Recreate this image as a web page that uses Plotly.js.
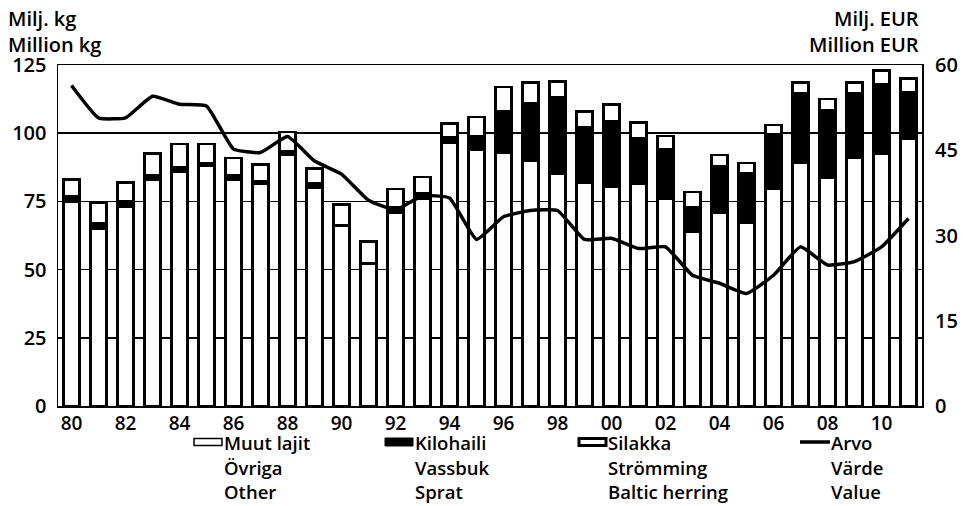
<!DOCTYPE html>
<html>
<head>
<meta charset="utf-8">
<script src="https://cdn.plot.ly/plotly-3.0.1.min.js"></script>
<style>
html,body{margin:0;padding:0;background:#fff;}
#chart{width:972px;height:506px;}
</style>
</head>
<body>
<div id="chart"></div>
<script>
// Data (Million kg and Million EUR)
const years = [1980,1981,1982,1983,1984,1985,1986,1987,1988,1989,1990,1991,1992,1993,1994,1995,1996,1997,1998,1999,2000,2001,2002,2003,2004,2005,2006,2007,2008,2009,2010,2011];
const silakka = [75,65,73,83,86,88,83,81.5,92,80,66,52,71,76,96.5,94,93,90,85,82,80.5,81.5,76,64,71,67,79.5,89,83.5,91,92.5,98];
const kilohaili = [2,2,2,1.5,1.5,1,1.5,1,1.5,1.5,0.3,0.3,2,2,2,5,15,21,28,20,24,16.5,18,9,17,18.5,20,25.5,25,23.5,25.5,17];
const muut = [6,7.5,7,8,8.5,7,6.5,6,7,5.5,7.5,8,6.5,6,5,7,9,7.5,6,6,6,6,5,5.5,4,3.5,3.5,4,4,4,5,5];
const arvo = [56.4,50.7,50.7,54.5,53.1,52.8,45.2,44.6,47.4,43.1,40.8,36.2,34.5,37,36.6,29.3,33.3,34.4,34.4,29.3,29.5,27.7,28,23,21.6,19.8,23,28,24.8,25.4,28,33];
const xTickVals = [1980,1982,1984,1986,1988,1990,1992,1994,1996,1998,2000,2002,2004,2006,2008,2010];
const xTickText = ["80","82","84","86","88","90","92","94","96","98","00","02","04","06","08","10"];
const yLeftTicks = [0,25,50,75,100,125];
const yRightTicks = [0,15,30,45,60];
const legendLabels = [
  ["Muut lajit","Övriga","Other"],
  ["Kilohaili","Vassbuk","Sprat"],
  ["Silakka","Strömming","Baltic herring"],
  ["Arvo","Värde","Value"]
];

const FONT = "Open Sans, Noto Sans, sans-serif";
const fs = 20;
const fw = 600;

const traces = [
  {type:'bar', name:'Silakka', x:years, y:silakka, marker:{color:'#fff', line:{color:'#000', width:2.5}}, showlegend:false, hoverinfo:'skip'},
  {type:'bar', name:'Kilohaili', x:years, y:kilohaili, marker:{color:'#000', line:{color:'#000', width:2.5}}, showlegend:false, hoverinfo:'skip'},
  {type:'bar', name:'Muut lajit', x:years, y:muut, marker:{color:'#fff', line:{color:'#000', width:2.5}}, showlegend:false, hoverinfo:'skip'},
  {type:'scatter', mode:'lines', name:'Arvo', x:years, y:arvo, yaxis:'y2', line:{color:'#000', width:3.5, shape:'spline', smoothing:0.4}, showlegend:false, hoverinfo:'skip'}
];

function px2x(p){ return (p-58)/864; }
function py2y(p){ return (406-p)/341; }

const legendPos = [
  {sx0:194, sx1:222, kind:'other', tx:223},
  {sx0:385, sx1:413, kind:'sprat', tx:414},
  {sx0:579, sx1:606, kind:'herring', tx:607},
  {sx0:800, sx1:830, kind:'line', tx:830}
];
const rowY = [443, 467, 491];

const shapes = [];
const annotations = [
  {xref:'paper', yref:'paper', x:px2x(7), y:py2y(4), xanchor:'left', yanchor:'top', align:'left', showarrow:false, borderpad:0,
   text:'Milj. kg<br>Million kg', font:{family:FONT, size:fs, weight:fw, color:'#000'}},
  {xref:'paper', yref:'paper', x:px2x(920), y:py2y(4), xanchor:'right', yanchor:'top', align:'right', showarrow:false, borderpad:0,
   text:'Milj. EUR<br>Million EUR', font:{family:FONT, size:fs, weight:fw, color:'#000'}}
];
legendPos.forEach((it, i)=>{
  const yc = 442;
  if(it.kind==='line'){
    shapes.push({type:'line', xref:'paper', yref:'paper', x0:px2x(it.sx0), x1:px2x(it.sx1), y0:py2y(yc), y1:py2y(yc), line:{color:'#000', width:3.5}});
  } else {
    let fill = '#fff', lw = 1.5, h = 3.5;
    if(it.kind==='sprat'){ fill = '#000'; lw = 1; h = 4; }
    if(it.kind==='herring'){ fill = '#fff'; lw = 3; h = 3.5; }
    shapes.push({type:'rect', xref:'paper', yref:'paper', x0:px2x(it.sx0), x1:px2x(it.sx1), y0:py2y(yc-h), y1:py2y(yc+h), fillcolor:fill, line:{color:'#000', width:lw}});
  }
  legendLabels[i].forEach((t, r)=>{
    annotations.push({xref:'paper', yref:'paper', x:px2x(it.tx), y:py2y(rowY[r]), xanchor:'left', yanchor:'middle', align:'left', showarrow:false, borderpad:0,
      text:t, font:{family:FONT, size:18.5, weight:fw, color:'#000'}});
  });
});

const layout = {
  width:972, height:506,
  margin:{l:58, r:50, t:65, b:100},
  paper_bgcolor:'#fff', plot_bgcolor:'#fff',
  barmode:'stack', bargap:0.42,
  showlegend:false,
  font:{family:FONT, size:fs, weight:fw, color:'#000'},
  xaxis:{range:[1979.5,2011.5], tickvals:xTickVals, ticktext:xTickText, showgrid:false, zeroline:false,
    showline:true, linecolor:'#000', linewidth:1.5, mirror:true, ticks:'', ticklabelstandoff:0, tickfont:{family:FONT, size:19, weight:fw}},
  yaxis:{range:[0,125], tickvals:yLeftTicks, showgrid:true, gridcolor:'#000', gridwidth:1.5, zeroline:false,
    showline:true, linecolor:'#000', linewidth:1.5, mirror:true, ticks:'', ticklabelstandoff:6, tickfont:{family:FONT, size:fs, weight:fw}},
  yaxis2:{range:[0,60], tickvals:yRightTicks, overlaying:'y', side:'right', showgrid:false, zeroline:false,
    showline:false, ticks:'', ticklabelstandoff:12, tickfont:{family:FONT, size:fs, weight:fw}},
  shapes:shapes,
  annotations:annotations
};

Plotly.newPlot('chart', traces, layout, {staticPlot:true, displayModeBar:false});
</script>
</body>
</html>
